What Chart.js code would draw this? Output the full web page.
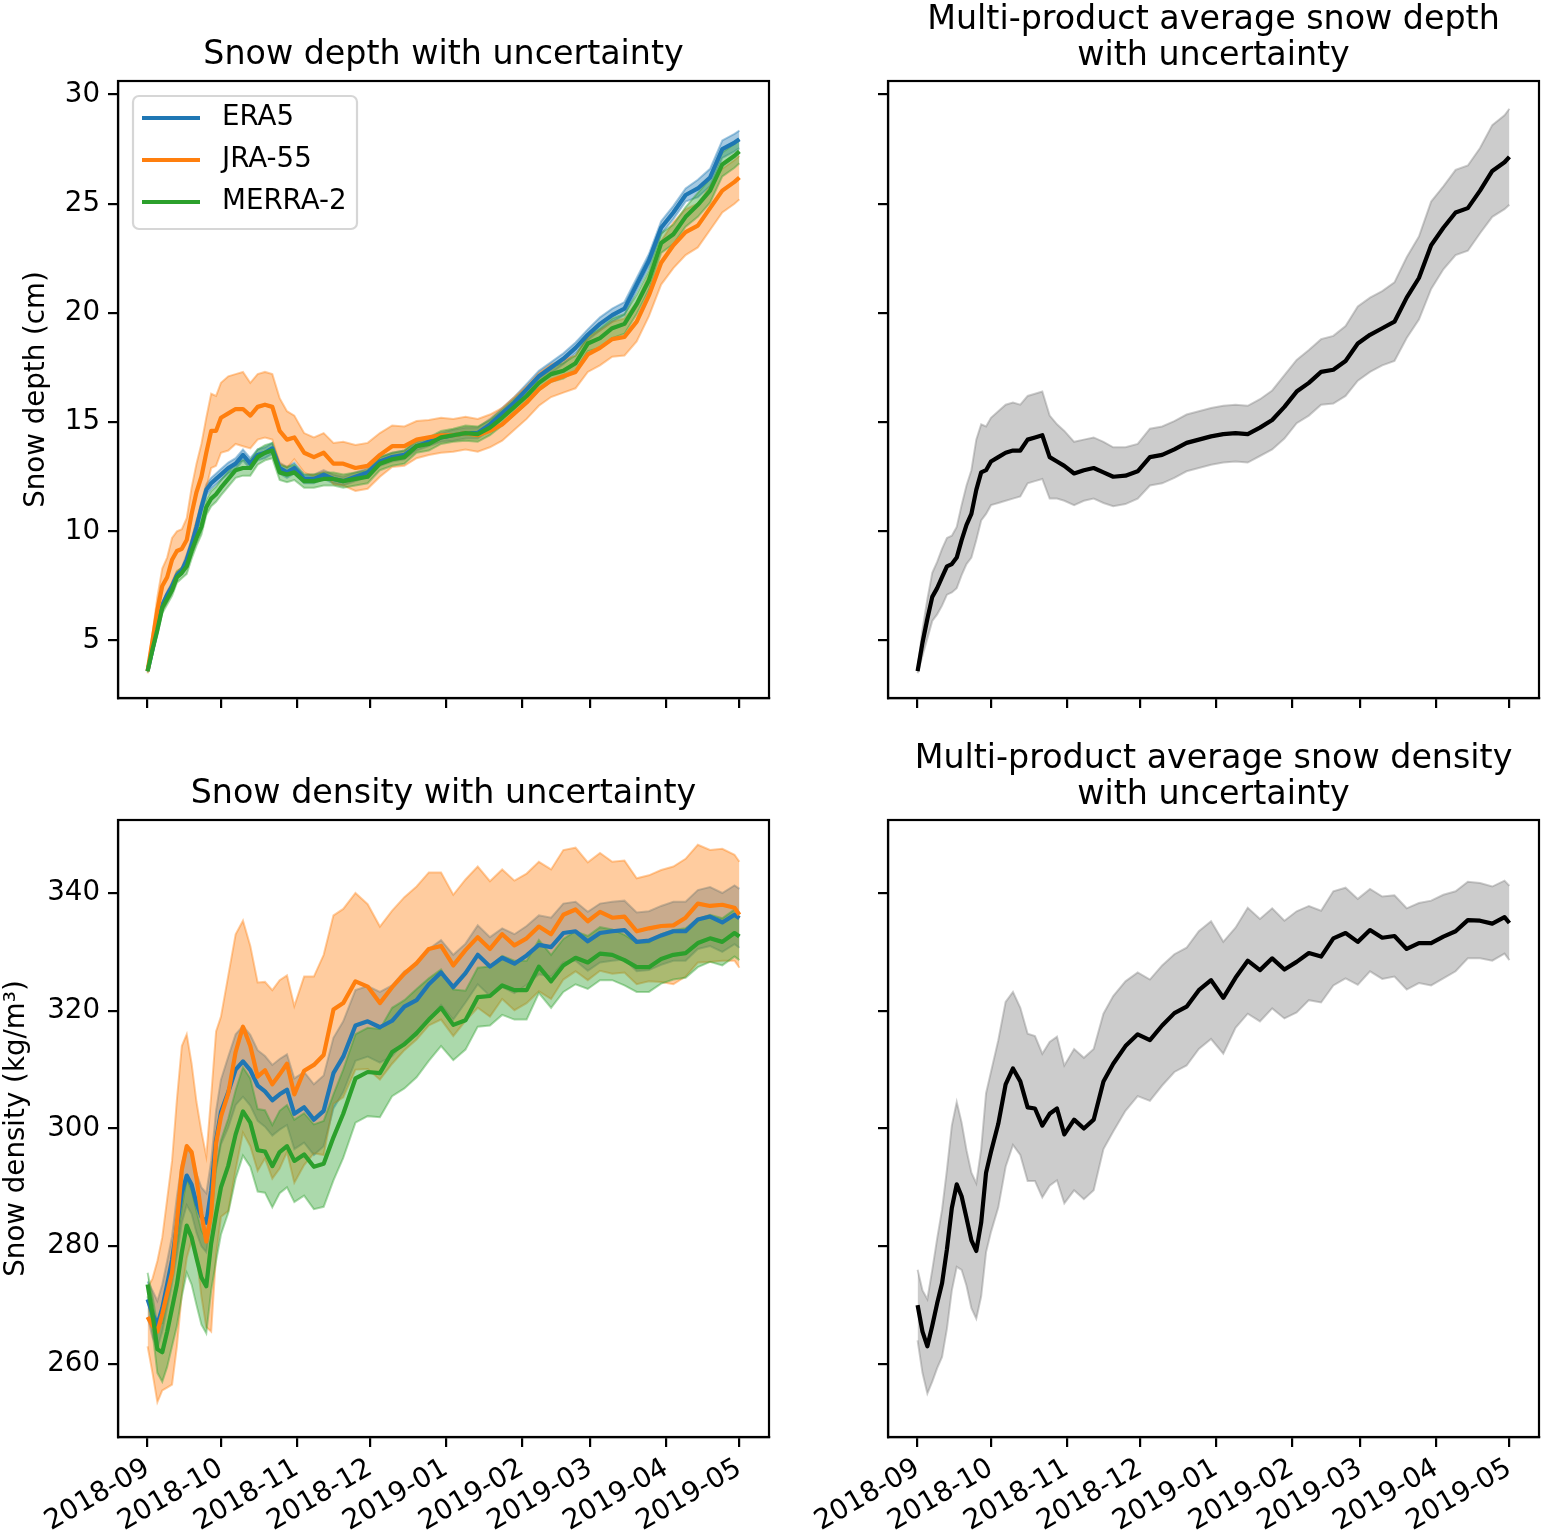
<!DOCTYPE html>
<html>
<head>
<meta charset="utf-8">
<title>Snow depth and density with uncertainty</title>
<script src="https://cdn.jsdelivr.net/npm/chart.js@4.4.1/dist/chart.umd.min.js"></script>
<style>
  html, body { margin: 0; padding: 0; background: #fff; }
  #figure { position: relative; width: 1541px; height: 1536px; overflow: hidden; }
  .panel { position: absolute; width: 771px; height: 797px; }
</style>
</head>
<body>
<div id="figure">
  <div class="panel" style="left:0;top:0"><canvas id="depth-products"></canvas></div>
  <div class="panel" style="left:770px;top:0"><canvas id="depth-mean"></canvas></div>
  <div class="panel" style="left:0;top:739px"><canvas id="density-products"></canvas></div>
  <div class="panel" style="left:770px;top:739px"><canvas id="density-mean"></canvas></div>
</div>
<script>
// Days since 2018-09-01 at which the curves were read
const days = [
  0, 2, 4, 6, 8, 10, 12, 14,
  16, 18, 20, 22, 24, 26, 28, 30,
  33, 36, 39, 42, 45, 48, 51, 54,
  57, 60, 64, 68, 72, 76, 80, 85,
  90, 95, 100, 105, 110, 115, 120, 125,
  130, 135, 140, 145, 150, 155, 160, 165,
  170, 175, 180, 185, 190, 195, 200, 205,
  210, 215, 220, 225, 230, 235, 240, 242
];

// Month ticks (day offsets) and their labels
const tickDays = [0, 30, 61, 91, 122, 153, 181, 212, 242];
const tickLabels = ["2018-09", "2018-10", "2018-11", "2018-12", "2019-01", "2019-02", "2019-03", "2019-04", "2019-05"];
const depthTicks = [5, 10, 15, 20, 25, 30];
const densityTicks = [260, 280, 300, 320, 340];

const products = ["ERA5", "JRA-55", "MERRA-2"];

// Snow depth (cm)
const era5Depth = [
  3.6, 4.6, 5.6, 6.6, 7.1, 7.5, 8.0, 8.2,
  8.7, 9.4, 10.2, 11.1, 11.9, 12.2, 12.4, 12.6,
  12.9, 13.1, 13.5, 13.1, 13.5, 13.6, 13.8, 12.9,
  12.7, 12.9, 12.4, 12.4, 12.6, 12.4, 12.3, 12.5,
  12.7, 13.2, 13.4, 13.5, 13.9, 14.1, 14.3, 14.4,
  14.5, 14.5, 14.9, 15.4, 15.9, 16.5, 17.1, 17.5,
  17.9, 18.4, 19.0, 19.5, 19.9, 20.2, 21.3, 22.4,
  23.9, 24.6, 25.4, 25.7, 26.2, 27.5, 27.8, 27.95
];
const era5DepthErr = [
  0.05, 0.15, 0.15, 0.15, 0.15, 0.15, 0.15, 0.15,
  0.25, 0.25, 0.25, 0.25, 0.25, 0.25, 0.25, 0.25,
  0.25, 0.25, 0.25, 0.25, 0.25, 0.25, 0.25, 0.25,
  0.25, 0.25, 0.2, 0.2, 0.2, 0.2, 0.2, 0.2,
  0.2, 0.2, 0.2, 0.2, 0.2, 0.2, 0.2, 0.25,
  0.25, 0.25, 0.25, 0.25, 0.25, 0.25, 0.25, 0.25,
  0.25, 0.25, 0.25, 0.3, 0.3, 0.3, 0.3, 0.3,
  0.3, 0.3, 0.3, 0.4, 0.4, 0.4, 0.4, 0.4
];
const jraDepth = [
  3.6, 5.0, 6.4, 7.5, 7.9, 8.7, 9.1, 9.2,
  9.6, 10.8, 11.8, 12.5, 13.6, 14.6, 14.6, 15.2,
  15.4, 15.6, 15.6, 15.3, 15.7, 15.8, 15.7, 14.6,
  14.2, 14.3, 13.6, 13.4, 13.6, 13.1, 13.1, 12.9,
  13.0, 13.5, 13.9, 13.9, 14.2, 14.3, 14.4, 14.4,
  14.5, 14.4, 14.6, 14.9, 15.4, 15.9, 16.5, 16.9,
  17.1, 17.3, 18.1, 18.4, 18.8, 18.9, 19.6, 20.8,
  22.3, 23.1, 23.7, 24.0, 24.8, 25.6, 26.0, 26.2
];
const jraDepthErr = [
  0.1, 0.3, 0.6, 0.8, 0.9, 1.0, 0.9, 0.9,
  1.0, 1.2, 1.3, 1.5, 1.6, 1.7, 1.6, 1.6,
  1.7, 1.6, 1.7, 1.5, 1.5, 1.5, 1.5, 1.5,
  1.3, 1.0, 0.9, 0.9, 0.9, 0.95, 1.0, 1.05,
  1.05, 1.0, 0.95, 0.9, 0.85, 0.8, 0.8, 0.75,
  0.75, 0.75, 0.75, 0.75, 0.75, 0.75, 0.75, 0.75,
  0.75, 0.75, 0.8, 0.8, 0.8, 0.85, 0.9, 0.95,
  1.0, 1.05, 1.05, 1.0, 1.0, 1.0, 1.0, 1.0
];
const merraDepth = [
  3.6, 4.6, 5.5, 6.5, 6.9, 7.3, 7.9, 8.1,
  8.4, 9.1, 9.7, 10.2, 11.1, 11.5, 11.7, 12.0,
  12.4, 12.8, 12.9, 12.9, 13.4, 13.6, 13.7, 12.7,
  12.6, 12.7, 12.3, 12.3, 12.4, 12.4, 12.3, 12.4,
  12.5, 13.1, 13.3, 13.4, 13.9, 14.0, 14.3, 14.4,
  14.5, 14.45, 14.75, 15.2, 15.7, 16.2, 16.8, 17.2,
  17.35, 17.7, 18.6, 18.85, 19.3, 19.5, 20.4, 21.5,
  23.2, 23.6, 24.4, 24.95, 25.6, 26.8, 27.2, 27.4
];
const merraDepthErr = [
  0.05, 0.25, 0.25, 0.25, 0.25, 0.25, 0.25, 0.25,
  0.35, 0.35, 0.35, 0.35, 0.35, 0.35, 0.35, 0.35,
  0.35, 0.35, 0.35, 0.35, 0.35, 0.35, 0.35, 0.35,
  0.35, 0.35, 0.3, 0.3, 0.3, 0.3, 0.3, 0.3,
  0.3, 0.3, 0.3, 0.3, 0.3, 0.3, 0.3, 0.3,
  0.35, 0.35, 0.35, 0.35, 0.35, 0.35, 0.35, 0.35,
  0.35, 0.35, 0.35, 0.45, 0.45, 0.45, 0.45, 0.45,
  0.45, 0.45, 0.45, 0.55, 0.55, 0.55, 0.55, 0.55
];
const meanDepth = [
  3.6, 4.9, 6.0, 7.0, 7.4, 7.9, 8.4, 8.5,
  8.8, 9.6, 10.3, 10.8, 11.9, 12.7, 12.8, 13.2,
  13.4, 13.6, 13.7, 13.7, 14.2, 14.3, 14.4, 13.4,
  13.2, 13.0, 12.65, 12.8, 12.9, 12.7, 12.5, 12.55,
  12.75, 13.4, 13.5, 13.75, 14.05, 14.2, 14.35, 14.45,
  14.5, 14.45, 14.75, 15.1, 15.7, 16.4, 16.8, 17.3,
  17.4, 17.8, 18.6, 19.0, 19.3, 19.6, 20.7, 21.6,
  23.1, 23.9, 24.6, 24.8, 25.6, 26.5, 26.9, 27.15
];
const meanDepthErr = [
  0.1, 0.6, 0.9, 1.1, 1.2, 1.3, 1.3, 1.3,
  1.4, 1.6, 1.8, 2.0, 2.3, 2.2, 2.0, 2.0,
  2.1, 2.2, 2.2, 2.1, 2.0, 2.0, 2.0, 1.9,
  1.7, 1.6, 1.45, 1.4, 1.4, 1.4, 1.35, 1.3,
  1.25, 1.3, 1.3, 1.3, 1.3, 1.3, 1.3, 1.3,
  1.3, 1.3, 1.3, 1.35, 1.45, 1.45, 1.5, 1.5,
  1.55, 1.6, 1.7, 1.7, 1.7, 1.8, 1.85, 1.9,
  2.0, 1.9, 1.95, 1.95, 1.95, 2.1, 2.15, 2.2
];

// Snow density (kg/m3)
const era5Density = [
  271.0, 268.5, 266.7, 269.5, 273.5, 277.7, 283.5, 289.0,
  292.0, 290.5, 287.3, 285.0, 284.0, 289.5, 298.0, 302.8,
  306.2, 310.0, 311.4, 309.9, 307.3, 306.3, 304.8, 305.8,
  306.6, 302.5, 303.6, 301.5, 303.0, 309.4, 312.2, 317.5,
  318.2, 317.2, 318.3, 320.7, 321.8, 324.5, 326.5, 324.0,
  326.4, 329.5, 327.5, 329.0, 328.0, 329.4, 331.2, 330.8,
  333.2, 333.5, 331.8, 333.2, 333.5, 333.7, 331.7, 331.9,
  332.8, 333.5, 333.5, 335.5, 336.0, 335.0, 336.3, 335.7
];
const era5DensityErr = [
  3, 4, 4, 4, 4, 4, 5, 5,
  5, 5, 5, 5, 5, 5, 5, 5.5,
  6, 6, 6, 6, 6, 6, 6, 6,
  6, 6, 6, 6, 6, 6, 6, 6,
  6, 6, 6, 6, 6, 6, 5.5, 5.5,
  5, 5, 5, 5, 5, 5, 5, 5,
  5, 5, 5, 5, 5, 5, 5, 5,
  5, 5, 5, 5, 5, 5, 5, 5
];
const jraDensity = [
  268.0, 266.5, 265.5, 268.5, 272.0, 275.5, 284.0, 293.0,
  297.0, 296.0, 291.5, 285.5, 280.8, 285.5, 297.5, 302.0,
  306.0, 313.0, 317.3, 314.0, 308.8, 309.9, 307.5, 309.2,
  311.0, 305.8, 309.8, 310.8, 312.5, 320.2, 321.3, 325.0,
  324.1, 321.3, 324.0, 326.3, 328.1, 330.5, 331.0, 327.7,
  330.3, 332.5, 330.5, 333.0, 331.1, 332.3, 334.3, 333.0,
  336.3, 337.2, 335.2, 336.8, 335.8, 336.0, 333.5, 334.0,
  334.4, 334.5, 335.8, 338.2, 337.8, 338.0, 337.5, 336.3
];
const jraDensityErr = [
  5, 8, 12, 13, 16, 19, 21, 21,
  19, 15, 13, 14, 14.5, 20, 19, 17,
  20, 20, 18, 17, 16, 15, 16, 16,
  15, 15, 16, 15, 17, 16, 16, 15,
  14, 13, 13, 13, 13, 13, 12.5, 12,
  12, 12, 11.5, 11, 11, 11, 11, 11,
  11, 10.5, 10, 10, 9.5, 9.5, 9, 9,
  9.5, 10, 10, 10, 9.5, 9.5, 9, 9
];
const merraDensity = [
  273.5, 268.5, 262.5, 262.0, 265.5, 269.5, 273.5, 279.0,
  283.5, 281.5, 278.0, 274.7, 273.2, 280.5, 285.5, 290.0,
  293.7, 299.0, 302.9, 301.0, 296.3, 296.1, 293.6, 296.0,
  297.0, 294.5, 295.6, 293.5, 294.0, 298.5, 302.5, 308.5,
  309.6, 309.4, 313.0, 314.3, 316.2, 318.5, 320.5, 317.6,
  318.4, 322.3, 322.5, 324.3, 323.5, 323.5, 327.5, 325.0,
  327.7, 329.0, 328.2, 329.7, 329.5, 328.6, 327.4, 327.4,
  328.8, 329.5, 329.8, 331.5, 332.3, 331.7, 333.2, 332.6
];
const merraDensityErr = [
  2, 3, 4, 5, 6, 6.5, 7, 7.5,
  8, 8, 8, 8, 8, 8, 8, 8,
  8, 7.5, 7.5, 7.5, 7, 7, 7, 7,
  7, 7, 7, 7.2, 7.3, 7.3, 7.5, 7.5,
  7.5, 7.5, 7.5, 7.5, 7.5, 7, 6.5, 6,
  5, 5, 5, 5, 5, 5, 4.5, 4.5,
  4.5, 4.5, 4.5, 4.5, 4.3, 4.3, 4.2, 4.2,
  4.2, 4.2, 4.2, 4.1, 4, 4, 4, 4
];
const meanDensity = [
  270.0, 265.5, 263.0, 266.5, 270.3, 273.7, 279.5, 286.5,
  290.5, 288.5, 284.8, 281.0, 279.2, 284.0, 292.5, 296.0,
  300.8, 307.5, 310.2, 308.0, 303.6, 303.4, 300.5, 302.5,
  303.4, 299.0, 301.5, 300.0, 301.5, 308.0, 311.0, 314.0,
  316.0, 315.0, 317.5, 319.6, 320.7, 323.5, 325.2, 322.2,
  325.6, 328.5, 326.9, 328.9, 327.0, 328.3, 329.8, 329.2,
  332.3, 333.2, 331.7, 333.7, 332.4, 332.7, 330.5, 331.5,
  331.5, 332.6, 333.5, 335.4, 335.3, 334.8, 335.9, 334.9
];
const meanDensityErr = [
  6, 7, 8, 9.5, 11, 12.5, 13.5, 14,
  14, 12.5, 11.5, 11.5, 11.5, 12.5, 13.5, 13.6,
  14.2, 14, 13, 12.5, 12.5, 12.3, 12.2, 12.2,
  12.2, 11.7, 12, 12, 12, 11.5, 11.5, 11,
  10.5, 10.3, 10.2, 10, 10, 10, 10, 9.5,
  8.5, 9, 8.7, 8.5, 8.3, 8.6, 8, 7.8,
  8, 7.7, 7.3, 7, 7, 6.9, 6.9, 6.8,
  7.2, 7.1, 6.8, 6.5, 6.4, 6.3, 6.2, 6.3
];

// matplotlib tab10 colours
const lineColors = ["#1f77b4", "#ff7f0e", "#2ca02c"];
const bandColors = ["rgba(31, 119, 180, 0.4)", "rgba(255, 127, 14, 0.4)", "rgba(44, 160, 44, 0.4)"];

const FONT = '"DejaVu Sans", sans-serif';
const tickFont = { family: FONT, size: 27.7 };

document.addEventListener("DOMContentLoaded", () => {
    // Snow depth per product
    new Chart(document.getElementById("depth-products"), {
        type: "line",
        data: {
            datasets: [
                lineDataset(merraDepth, lineColors[2], 0),
                lineDataset(jraDepth, lineColors[1], 1),
                lineDataset(era5Depth, lineColors[0], 2),
                ...bandDatasets(merraDepth, merraDepthErr, bandColors[2], 3),
                ...bandDatasets(jraDepth, jraDepthErr, bandColors[1], 4),
                ...bandDatasets(era5Depth, era5DepthErr, bandColors[0], 5)
            ]
        },
        options: panelOptions({
            title: "Snow depth with uncertainty",
            yTicks: depthTicks, yMin: 2.37, yMax: 30.62,
            yLabel: "Snow depth (cm)", yLabelPad: 20,
            showX: false, showY: true,
            legendItems: products.map((p, i) => ({ label: p, color: lineColors[i] }))
        }),
        plugins: [framePlugin, boxLegend]
    });

    // Multi-product average snow depth
    new Chart(document.getElementById("depth-mean"), {
        type: "line",
        data: {
            datasets: [
                lineDataset(meanDepth, "#000", 0),
                ...bandDatasets(meanDepth, meanDepthErr, "rgba(128, 128, 128, 0.4)", 1)
            ]
        },
        options: panelOptions({
            title: ["Multi-product average snow depth", "with uncertainty"],
            yTicks: depthTicks, yMin: 2.37, yMax: 30.62,
            showX: false, showY: false
        }),
        plugins: [framePlugin]
    });

    // Snow density per product
    new Chart(document.getElementById("density-products"), {
        type: "line",
        data: {
            datasets: [
                lineDataset(merraDensity, lineColors[2], 0),
                lineDataset(jraDensity, lineColors[1], 1),
                lineDataset(era5Density, lineColors[0], 2),
                ...bandDatasets(merraDensity, merraDensityErr, bandColors[2], 3),
                ...bandDatasets(jraDensity, jraDensityErr, bandColors[1], 4),
                ...bandDatasets(era5Density, era5DensityErr, bandColors[0], 5)
            ]
        },
        options: panelOptions({
            title: "Snow density with uncertainty",
            yTicks: densityTicks, yMin: 247.6, yMax: 352.4,
            yLabel: "Snow density (kg/m³)", yLabelPad: 0,
            showX: true, showY: true
        }),
        plugins: [framePlugin]
    });

    // Multi-product average snow density
    new Chart(document.getElementById("density-mean"), {
        type: "line",
        data: {
            datasets: [
                lineDataset(meanDensity, "#000", 0),
                ...bandDatasets(meanDensity, meanDensityErr, "rgba(128, 128, 128, 0.4)", 1)
            ]
        },
        options: panelOptions({
            title: ["Multi-product average snow density", "with uncertainty"],
            yTicks: densityTicks, yMin: 247.6, yMax: 352.4,
            showX: true, showY: false
        }),
        plugins: [framePlugin]
    });
});

function toPoints(values) {
    return days.map((d, i) => ({ x: d, y: values[i] }));
}

function lineDataset(values, color, order) {
    return {
        data: toPoints(values),
        borderColor: color,
        borderWidth: 4.2,
        borderJoinStyle: "round",
        pointRadius: 0,
        fill: false,
        order: order
    };
}

// Lower and upper edge of an uncertainty band, filled in between
function bandDatasets(values, err, color, order) {
    const lower = values.map((v, i) => v - err[i]);
    const upper = values.map((v, i) => v + err[i]);
    return [
        { data: toPoints(lower), borderColor: color, borderWidth: 2, pointRadius: 0, fill: false, order: order },
        { data: toPoints(upper), borderColor: color, borderWidth: 2, pointRadius: 0, backgroundColor: color, fill: "-1", order: order }
    ];
}

function panelOptions(cfg) {
    const twoLines = Array.isArray(cfg.title);
    const axisGrid = {
        display: true,
        drawOnChartArea: false,
        drawTicks: true,
        tickLength: 10,
        tickWidth: 2.2,
        tickColor: "#000",
        color: "#000",
        lineWidth: 2.2
    };
    return {
        responsive: true,
        maintainAspectRatio: false,
        animation: false,
        layout: { padding: { right: 2 } },
        plugins: {
            legend: { display: false },
            tooltip: { enabled: false },
            title: {
                display: true,
                text: cfg.title,
                color: "#000",
                fullSize: false,
                font: { family: FONT, size: 33.3, weight: "normal", lineHeight: 36 / 33.3 },
                padding: twoLines ? { top: 2, bottom: 7 } : { top: 37, bottom: 8 }
            },
            boxLegend: { items: cfg.legendItems || null }
        },
        scales: {
            x: {
                type: "linear",
                min: -12.1,
                max: 254.1,
                afterBuildTicks: (scale) => { scale.ticks = tickDays.map(v => ({ value: v })); },
                afterFit: (scale) => { scale.height = 99; },
                ticks: {
                    autoSkip: false,
                    minRotation: 30,
                    maxRotation: 30,
                    padding: 5,
                    labelOffset: 0,
                    color: "#000",
                    font: tickFont,
                    callback: (value, index) => cfg.showX ? tickLabels[index] : ""
                },
                grid: axisGrid,
                border: { display: true, color: "#000", width: 2.2 }
            },
            y: {
                type: "linear",
                min: cfg.yMin,
                max: cfg.yMax,
                afterBuildTicks: (scale) => { scale.ticks = cfg.yTicks.map(v => ({ value: v })); },
                afterFit: (scale) => { scale.width = 118; },
                ticks: {
                    padding: 8,
                    color: "#000",
                    font: tickFont,
                    callback: (value) => cfg.showY ? String(value) : ""
                },
                title: {
                    display: !!cfg.yLabel,
                    text: cfg.yLabel || "",
                    color: "#000",
                    font: tickFont,
                    padding: { top: cfg.yLabelPad || 0, bottom: 0 }
                },
                grid: axisGrid,
                border: { display: true, color: "#000", width: 2.2 }
            }
        }
    };
}

// Full box around the plotting area, like matplotlib spines
const framePlugin = {
    id: "frame",
    afterDatasetsDraw(chart) {
        const { ctx, chartArea: a } = chart;
        ctx.save();
        ctx.strokeStyle = "#000";
        ctx.lineWidth = 2.2;
        ctx.strokeRect(a.left, a.top, a.right - a.left, a.bottom - a.top);
        ctx.restore();
    }
};

// Legend drawn inside the plot, upper left
const boxLegend = {
    id: "boxLegend",
    afterDatasetsDraw(chart, args, opts) {
        if (!opts.items) return;
        const { ctx, chartArea: a } = chart;
        const x = a.left + 15, y = a.top + 15, w = 224, h = 133;
        ctx.save();
        ctx.beginPath();
        ctx.roundRect(x, y, w, h, 6);
        ctx.fillStyle = "rgba(255, 255, 255, 0.8)";
        ctx.fill();
        ctx.strokeStyle = "rgba(204, 204, 204, 0.8)";
        ctx.lineWidth = 2.2;
        ctx.stroke();
        ctx.font = "27.7px " + FONT;
        ctx.textBaseline = "middle";
        ctx.textAlign = "left";
        opts.items.forEach((item, i) => {
            const cy = y + 22 + i * 42;
            ctx.strokeStyle = item.color;
            ctx.lineWidth = 4.2;
            ctx.beginPath();
            ctx.moveTo(x + 9, cy);
            ctx.lineTo(x + 67, cy);
            ctx.stroke();
            ctx.fillStyle = "#000";
            ctx.fillText(item.label, x + 89, cy);
        });
        ctx.restore();
    }
};
</script>
</body>
</html>
